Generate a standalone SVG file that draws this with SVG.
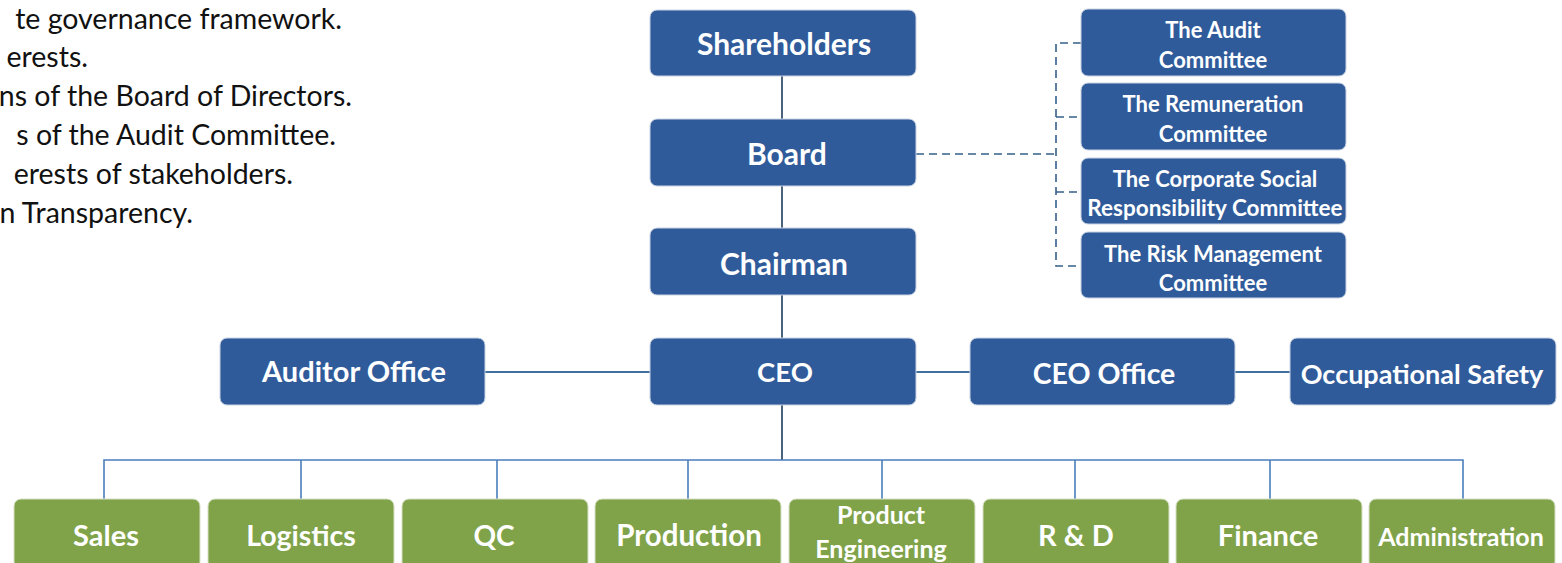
<svg xmlns="http://www.w3.org/2000/svg" width="1562" height="563" viewBox="0 0 1562 563">
<style>
.b{fill:#305B9B;stroke:#c9d3e2;stroke-width:1}
.g{fill:#80A34A;stroke:#d6e0c6;stroke-width:1}
.t{font-family:Lato,"Liberation Sans",sans-serif;font-weight:bold;fill:#fff;text-anchor:middle}
.l{font-family:Lato,"Liberation Sans",sans-serif;font-size:28.5px;fill:#111;text-anchor:end}
.dk{stroke:#1f3b5c;stroke-width:1.6;fill:none}
.md{stroke:#41709F;stroke-width:2;fill:none}
.bl{stroke:#4A7EBB;stroke-width:1.6;fill:none}
.ds{stroke:#36608a;stroke-width:1.6;fill:none;stroke-dasharray:8 5}
</style>
<g id="intro">
<text class="l" x="342" y="29">te governance framework.</text>
<text class="l" x="88" y="67">erests.</text>
<text class="l" x="352" y="106">ns of the Board of Directors.</text>
<text class="l" x="336" y="145">s of the Audit Committee.</text>
<text class="l" x="293" y="184">erests of stakeholders.</text>
<text class="l" x="193" y="223">n Transparency.</text>
</g>
<g id="connectors">
<line class="dk" x1="782" y1="76" x2="782" y2="119"/>
<line class="dk" x1="782" y1="186" x2="782" y2="228"/>
<line class="dk" x1="782" y1="295" x2="782" y2="338"/>
<line class="dk" x1="782" y1="405" x2="782" y2="460"/>
<line class="md" x1="485" y1="372" x2="650" y2="372"/>
<line class="md" x1="916" y1="372" x2="970" y2="372"/>
<line class="md" x1="1235" y1="372" x2="1290" y2="372"/>
<polyline class="ds" points="916,154 1056,154"/>
<polyline class="ds" points="1081,43 1056,43 1056,266 1081,266"/>
<line class="ds" x1="1056" y1="117" x2="1081" y2="117"/>
<line class="ds" x1="1056" y1="192" x2="1081" y2="192"/>
<polyline class="bl" points="104,499 104,460 1463,460 1463,499"/>
<line class="bl" x1="301" y1="460" x2="301" y2="499"/>
<line class="bl" x1="497" y1="460" x2="497" y2="499"/>
<line class="bl" x1="688" y1="460" x2="688" y2="499"/>
<line class="bl" x1="882" y1="460" x2="882" y2="499"/>
<line class="bl" x1="1075" y1="460" x2="1075" y2="499"/>
<line class="bl" x1="1270" y1="460" x2="1270" y2="499"/>
</g>
<g id="shareholders"><rect class="b" x="650" y="10" width="266" height="66" rx="7"/><text class="t" x="784" y="55" font-size="30">Shareholders</text></g>
<g id="board"><rect class="b" x="650" y="119" width="266" height="67" rx="7"/><text class="t" x="787" y="165" font-size="30">Board</text></g>
<g id="chairman"><rect class="b" x="650" y="228" width="266" height="67" rx="7"/><text class="t" x="784" y="275" font-size="30">Chairman</text></g>
<g id="ceo"><rect class="b" x="650" y="338" width="266" height="67" rx="7"/><text class="t" x="785" y="382" font-size="27.5">CEO</text></g>
<g id="auditor-office"><rect class="b" x="220" y="338" width="265" height="67" rx="7"/><text class="t" x="354" y="382" font-size="29">Auditor Office</text></g>
<g id="ceo-office"><rect class="b" x="970" y="338" width="265" height="67" rx="7"/><text class="t" x="1104" y="384" font-size="28.5">CEO Office</text></g>
<g id="occupational-safety"><rect class="b" x="1290" y="338" width="266" height="67" rx="7"/><text class="t" x="1422" y="384" font-size="27">Occupational Safety</text></g>
<g id="audit-committee"><rect class="b" x="1081" y="9" width="265" height="67" rx="7"/><text class="t" x="1213" y="38" font-size="22">The Audit</text><text class="t" x="1213" y="68" font-size="22">Committee</text></g>
<g id="remuneration-committee"><rect class="b" x="1081" y="83" width="265" height="67" rx="7"/><text class="t" x="1213" y="112" font-size="22">The Remuneration</text><text class="t" x="1213" y="142" font-size="22">Committee</text></g>
<g id="csr-committee"><rect class="b" x="1081" y="158" width="265" height="66" rx="7"/><text class="t" x="1215" y="187" font-size="22">The Corporate Social</text><text class="t" x="1215" y="216" font-size="22.5">Responsibility Committee</text></g>
<g id="risk-committee"><rect class="b" x="1081" y="232" width="265" height="66" rx="7"/><text class="t" x="1213" y="262" font-size="22">The Risk Management</text><text class="t" x="1213" y="291" font-size="22">Committee</text></g>
<g id="sales"><rect class="g" x="14" y="499" width="186" height="70" rx="7"/><text class="t" x="106" y="546" font-size="29">Sales</text></g>
<g id="logistics"><rect class="g" x="208" y="499" width="186" height="70" rx="7"/><text class="t" x="301" y="546" font-size="28.5">Logistics</text></g>
<g id="qc"><rect class="g" x="402" y="499" width="186" height="70" rx="7"/><text class="t" x="494" y="546" font-size="28">QC</text></g>
<g id="production"><rect class="g" x="595" y="499" width="186" height="70" rx="7"/><text class="t" x="689" y="546" font-size="29.5">Production</text></g>
<g id="product-engineering"><rect class="g" x="789" y="499" width="186" height="70" rx="7"/><text class="t" x="881" y="524" font-size="25">Product</text><text class="t" x="881" y="558" font-size="25">Engineering</text></g>
<g id="rnd"><rect class="g" x="983" y="499" width="186" height="70" rx="7"/><text class="t" x="1076" y="546" font-size="29">R &amp; D</text></g>
<g id="finance"><rect class="g" x="1176" y="499" width="186" height="70" rx="7"/><text class="t" x="1268" y="546" font-size="29">Finance</text></g>
<g id="administration"><rect class="g" x="1369" y="499" width="186" height="70" rx="7"/><text class="t" x="1461" y="546" font-size="25">Administration</text></g>
</svg>
